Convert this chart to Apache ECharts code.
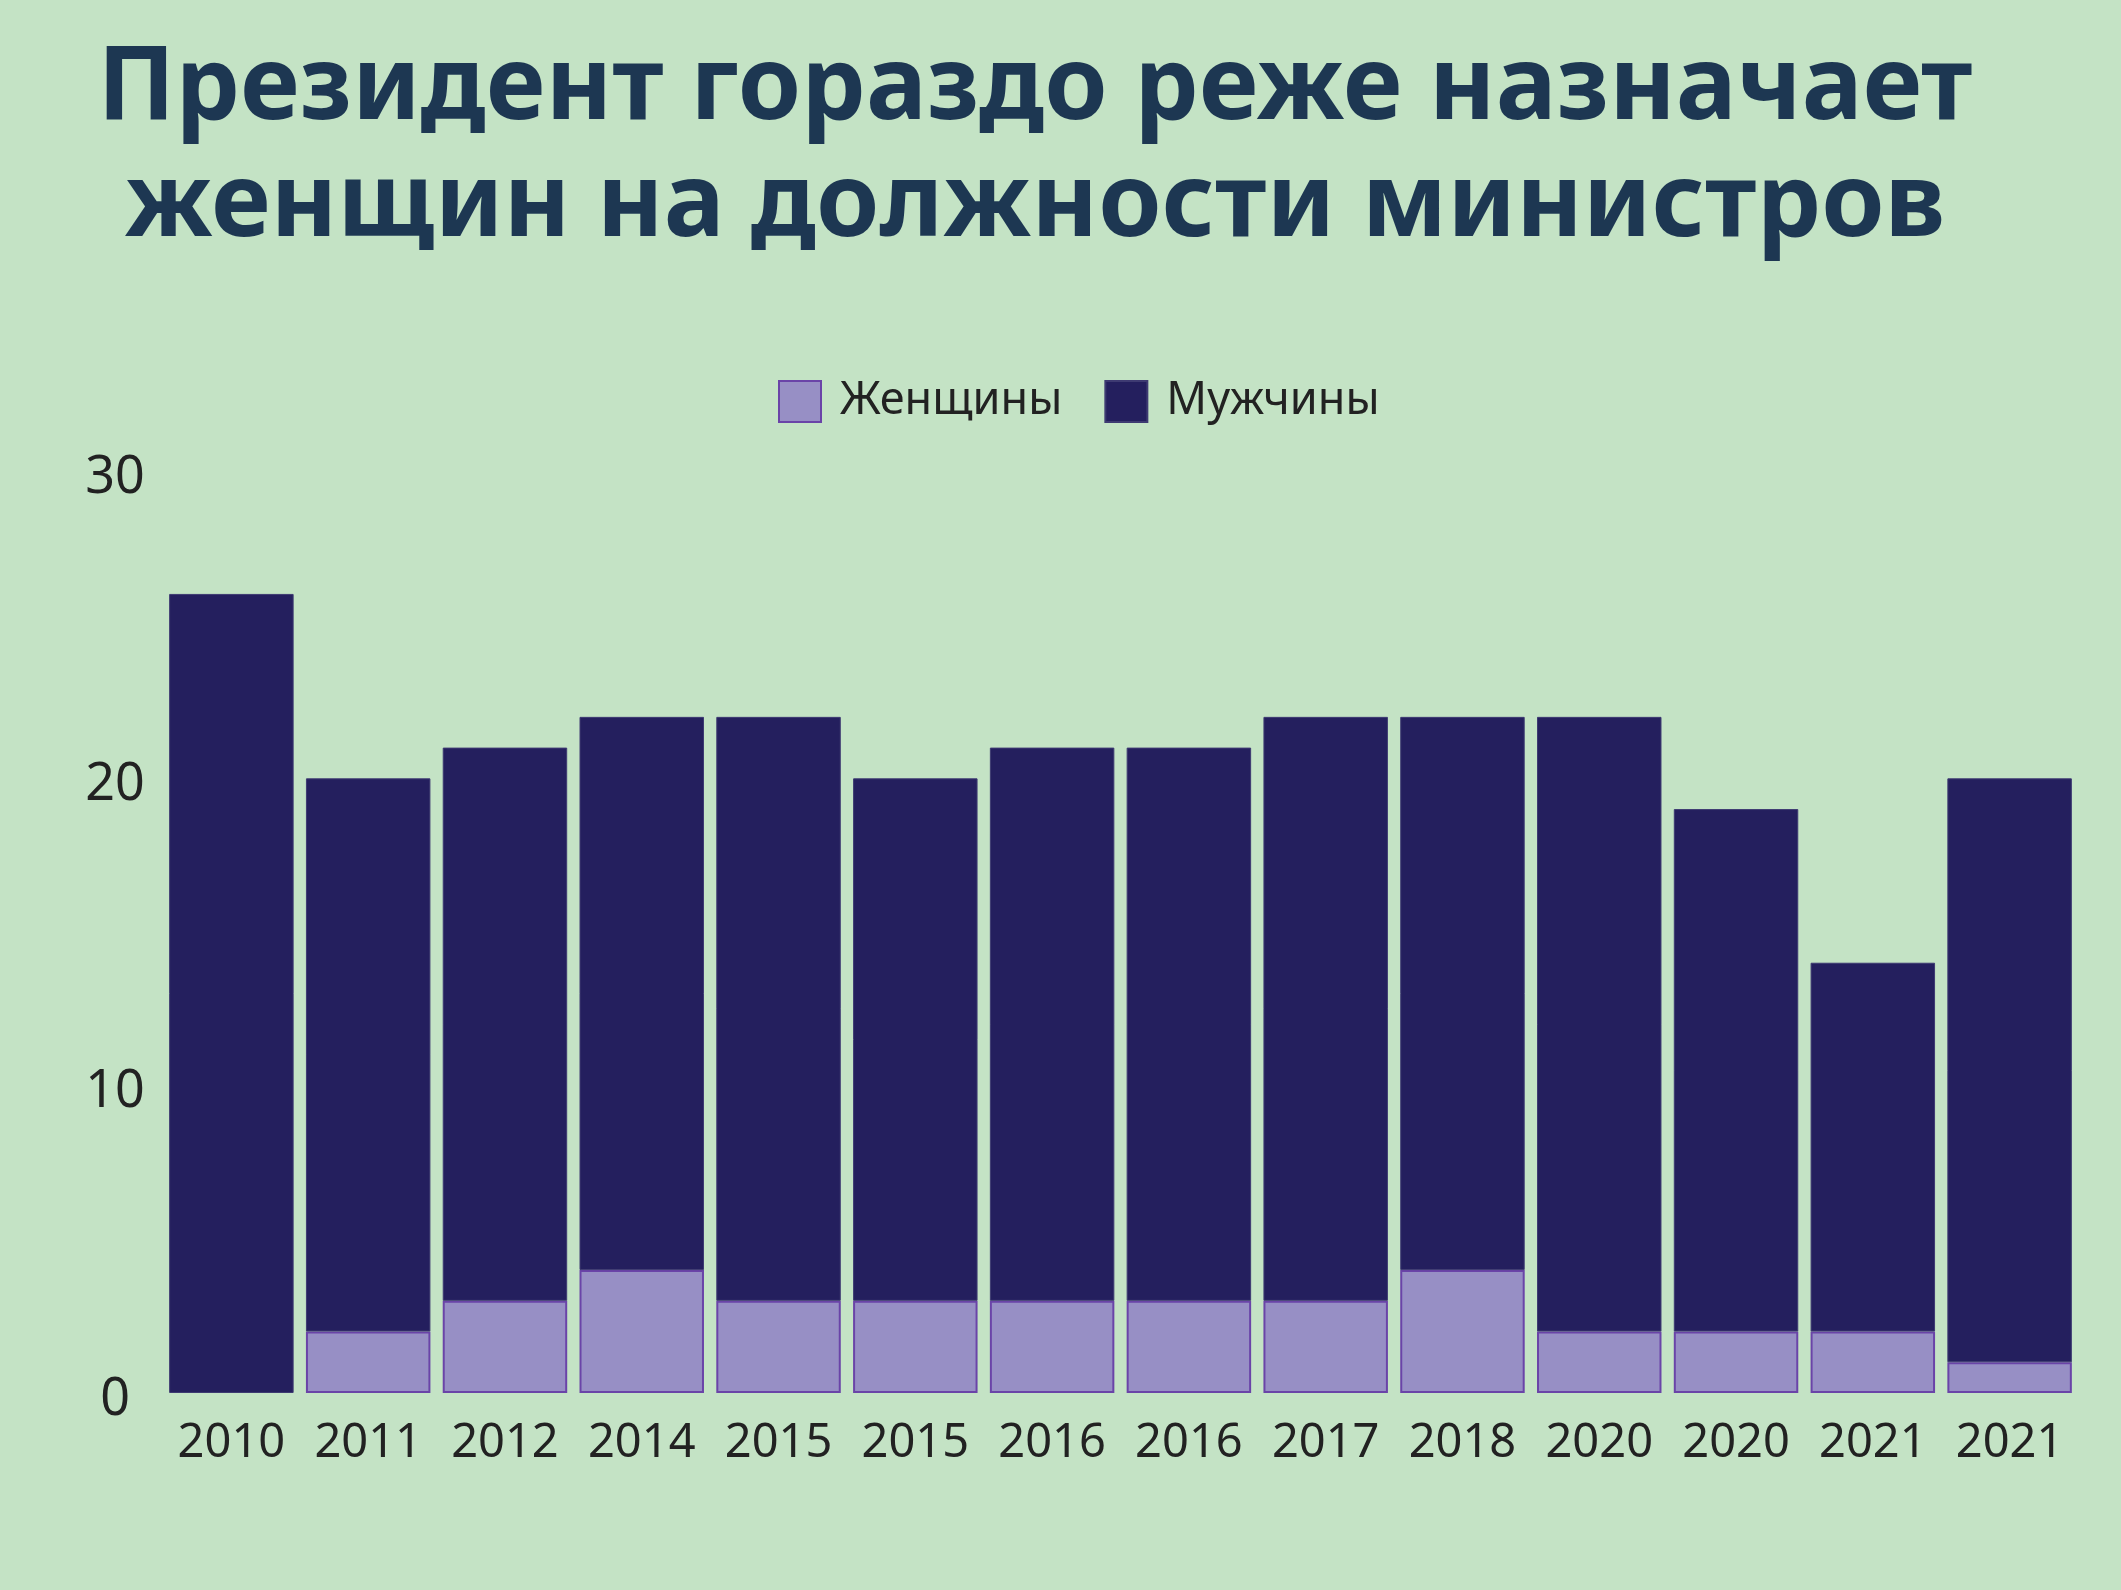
<!DOCTYPE html>
<html>
<head>
<meta charset="utf-8">
<script src="https://cdn.jsdelivr.net/npm/echarts@6/dist/echarts.min.js"></script>
<style>
  html, body { margin: 0; padding: 0; background: #c4e3c5; }
  #main { width: 2121px; height: 1590px; }
</style>
</head>
<body>
<div id="main"></div>
<script>
var myChart = echarts.init(document.getElementById('main'));

// данные
var years = ['2010', '2011', '2012', '2014', '2015', '2015', '2016', '2016', '2017', '2018', '2020', '2020', '2021', '2021'];
var women = [0, 2, 3, 4, 3, 3, 3, 3, 3, 4, 2, 2, 2, 1];
var men = [26, 18, 18, 18, 19, 17, 18, 18, 19, 18, 20, 17, 12, 19];
var yTicks = [0, 10, 20, 30];

var labelFont = '"Noto Sans", sans-serif';

option = {
    backgroundColor: '#c4e3c5',
    animation: false,
    title: {
        text: 'Президент гораздо реже назначает\nженщин на должности министров',
        left: 1030,
        top: 26,
        textAlign: 'center',
        textStyle: {
            fontFamily: '"Noto Sans", sans-serif',
            fontWeight: 'bold',
            fontSize: 102,
            lineHeight: 117,
            color: '#1d3752'
        }
    },
    legend: {
        data: ['Женщины', 'Мужчины'],
        left: 773,
        top: 374,
        icon: 'rect',
        itemWidth: 42,
        itemHeight: 41,
        itemGap: 42,
        textStyle: {
            fontFamily: labelFont,
            fontSize: 45,
            color: '#222222',
            padding: [0, 0, 0, 14]
        }
    },
    grid: {
        left: 163,
        right: 43,
        top: 471,
        bottom: 197
    },
    xAxis: {
        type: 'category',
        data: years,
        axisLine: { show: false },
        axisTick: { show: false },
        axisLabel: {
            interval: 0,
            margin: 27,
            fontFamily: labelFont,
            fontSize: 47,
            color: '#222222'
        }
    },
    yAxis: {
        type: 'value',
        min: yTicks[0],
        max: yTicks[yTicks.length - 1],
        interval: 10,
        splitLine: { show: false },
        axisLine: { show: false },
        axisTick: { show: false },
        axisLabel: {
            align: 'center',
            margin: 48,
            formatter: '{v|{value}}',
            rich: {
                v: {
                    padding: [14, 0, 0, 0],
                    fontFamily: labelFont,
                    fontSize: 52,
                    color: '#222222'
                }
            }
        }
    },
    series: [{
        name: 'Женщины',
        type: 'bar',
        stack: 'total',
        barCategoryGap: '9%',
        itemStyle: {
            color: '#978fc5',
            borderColor: '#6a44a8',
            borderWidth: 2
        },
        data: women.map(function (v) {
            return v === 0 ? { value: v, itemStyle: { borderWidth: 0 } } : v;
        })
    }, {
        name: 'Мужчины',
        type: 'bar',
        stack: 'total',
        barCategoryGap: '9%',
        itemStyle: {
            color: '#241f5e',
            borderColor: '#3e3a72',
            borderWidth: 1
        },
        data: men
    }]
};

myChart.setOption(option);
</script>
</body>
</html>
